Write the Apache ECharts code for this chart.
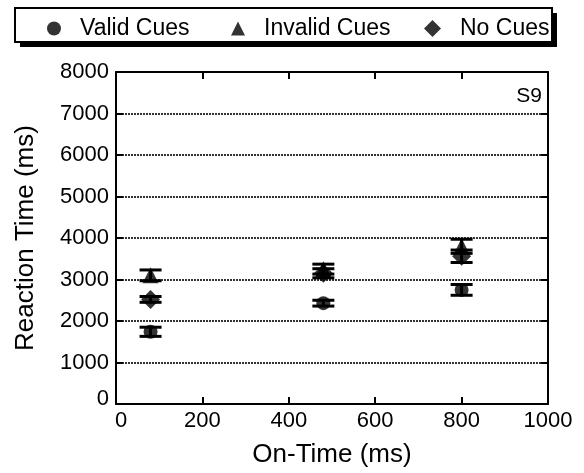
<!DOCTYPE html>
<html><head><meta charset="utf-8">
<script src="https://cdn.jsdelivr.net/npm/echarts@6/dist/echarts.min.js"></script>
<style>html,body{margin:0;padding:0;background:#fff}#c{width:584px;height:473px}</style>
</head><body><div id="c"></div>
<script>
const onTime = [80, 480, 800];
const validRT = [1740, 2430, 2750];
const validErr = [110, 70, 130];
const invalidRT = [3100, 3250, 3800];
const invalidErr = [130, 120, 170];
const noCueRT = [2520, 3150, 3560];
const noCueErr = [70, 110, 150];
const xTicks = [0, 200, 400, 600, 800, 1000];
const yTicks = [0, 1000, 2000, 3000, 4000, 5000, 6000, 7000, 8000];
const seriesNames = ['Valid Cues', 'Invalid Cues', 'No Cues'];
const panelLabel = 'S9';

const FONT = 'Liberation Sans, Arial, Helvetica, sans-serif';
const chart = echarts.init(document.getElementById('c'));

function pts(vals) { return onTime.map((x, i) => [x, vals[i]]); }
function errs(vals, e) { return onTime.map((x, i) => [x, vals[i] - e[i], vals[i] + e[i]]); }

function errSeries(data) {
  return {
    type: 'custom', xAxisIndex: 0, yAxisIndex: 0, silent: true, z: 3,
    encode: { x: 0, y: [1, 2] },
    data: data,
    renderItem: function (params, api) {
      const x = api.value(0), lo = api.value(1), hi = api.value(2);
      const a = api.coord([x, hi]), b = api.coord([x, lo]);
      const w = 11;
      const st = { stroke: '#000', lineWidth: 3 };
      return { type: 'group', children: [
        { type: 'line', shape: { x1: a[0], y1: a[1], x2: b[0], y2: b[1] }, style: st },
        { type: 'line', shape: { x1: a[0] - w, y1: a[1], x2: a[0] + w, y2: a[1] }, style: st },
        { type: 'line', shape: { x1: b[0] - w, y1: b[1], x2: b[0] + w, y2: b[1] }, style: st }
      ]};
    }
  };
}

const symbols = ['circle', 'triangle', 'diamond'];
const symSizes = [14, 16, 19];
const vals = [validRT, invalidRT, noCueRT];
const errsArr = [validErr, invalidErr, noCueErr];

const series = [];
for (let i = 0; i < 3; i++) {
  series.push(errSeries(errs(vals[i], errsArr[i])));
}
for (let i = 0; i < 3; i++) {
  series.push({
    name: seriesNames[i], type: 'scatter', symbol: symbols[i], symbolSize: symSizes[i],
    itemStyle: { color: '#000' }, z: 4, data: pts(vals[i])
  });
}

const legendLefts = [42, 226, 419];
const legendIcon = [14, 14, 17];
const legendPad = [14, 14, 14];
const legends = seriesNames.map((n, i) => ({
  data: [{ name: n, icon: symbols[i] }], left: legendLefts[i], top: 12,
  itemWidth: legendIcon[i], itemHeight: legendIcon[i], itemGap: 0, selectedMode: false,
  textStyle: { fontFamily: FONT, fontSize: 23, color: '#000', padding: [0, 0, 0, legendPad[i]] }
}));

const axisCommon = {
  min: 0,
  axisLine: { show: true, onZero: false, lineStyle: { color: '#000', width: 2 } },
  axisTick: { show: true, inside: true, length: 7, lineStyle: { color: '#000', width: 2 } },
  splitLine: { show: false }
};

chart.setOption({
  animation: false,
  backgroundColor: '#fff',
  grid: { left: 116, right: 36, top: 72, bottom: 68 },
  legend: legends,
  graphic: [
    { type: 'rect', shape: { x: 20, y: 13, width: 537, height: 34 }, style: { fill: '#000' }, z: -1 },
    { type: 'rect', shape: { x: 15, y: 8, width: 537, height: 34 }, style: { fill: '#fff', stroke: '#000', lineWidth: 2 }, z: 0 },
    { type: 'text', right: 42, top: 86, style: { text: panelLabel, font: '21px ' + FONT, fill: '#000' } }
  ],
  xAxis: [
    Object.assign({}, axisCommon, {
      type: 'value', max: 1000, interval: 200, position: 'bottom',
      name: 'On-Time (ms)', nameLocation: 'middle', nameGap: 38,
      nameTextStyle: { fontFamily: FONT, fontSize: 26, color: '#000' },
      axisLabel: { fontFamily: FONT, fontSize: 22, color: '#000', margin: 6,
        formatter: v => v === 0 ? '{z|0}' : (xTicks.includes(v) ? String(v) : ''),
        rich: { z: { fontFamily: FONT, fontSize: 22, color: '#000', padding: [0, 0, 0, 10] } } }
    }),
    Object.assign({}, axisCommon, {
      type: 'value', max: 1000, interval: 200, position: 'top',
      axisLabel: { show: false }
    })
  ],
  yAxis: [
    Object.assign({}, axisCommon, {
      type: 'value', max: 8000, interval: 1000, position: 'left',
      name: 'Reaction Time (ms)', nameLocation: 'middle', nameGap: 77,
      nameTextStyle: { fontFamily: FONT, fontSize: 26, color: '#000' },
      axisLabel: { fontFamily: FONT, fontSize: 22, color: '#000', margin: 7,
        formatter: v => v === 0 ? '{z|0}' : (yTicks.includes(v) ? String(v) : ''),
        rich: { z: { fontFamily: FONT, fontSize: 22, color: '#000', padding: [0, 0, 10, 0] } } },
      splitLine: { show: true, lineStyle: { color: '#333', width: 2, type: [2, 1] } }
    }),
    Object.assign({}, axisCommon, {
      type: 'value', max: 8000, interval: 1000, position: 'right',
      axisLabel: { show: false }
    })
  ],
  series: series
});
</script></body></html>
